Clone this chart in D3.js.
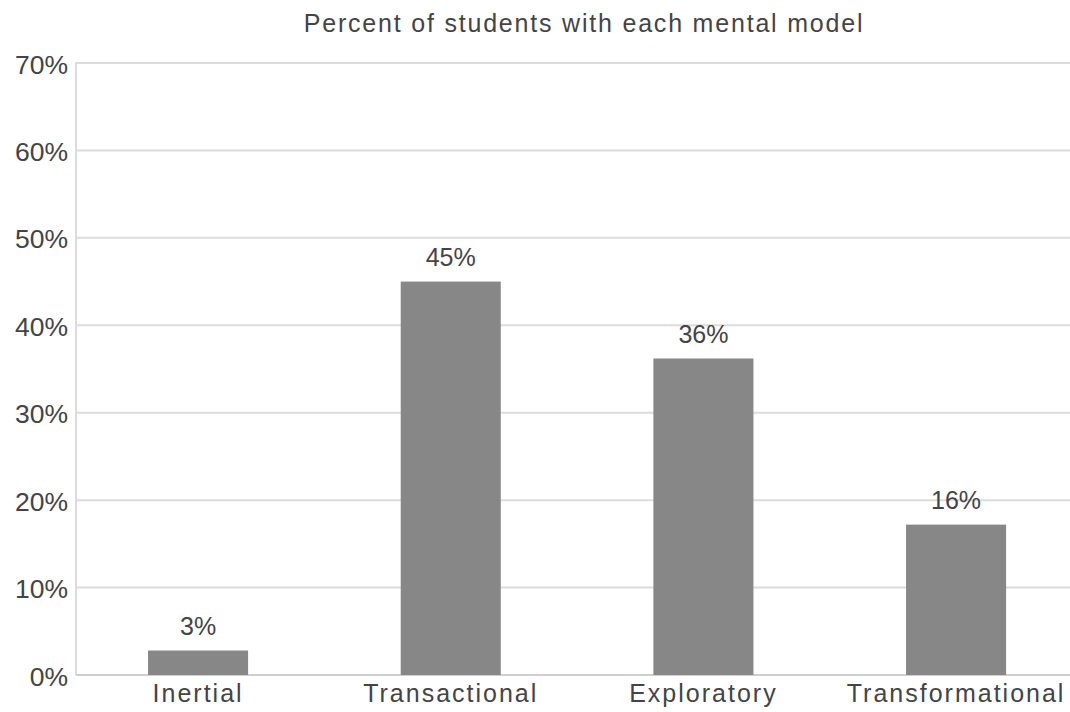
<!DOCTYPE html>
<html>
<head>
<meta charset="utf-8">
<script src="https://cdn.jsdelivr.net/npm/d3@7"></script>
<style>
  html, body { margin: 0; padding: 0; background: #fff; }
  svg { display: block; }
  text { font-family: "Liberation Sans", Arial, sans-serif; fill: #444; }
</style>
</head>
<body>
<svg id="chart" width="1070" height="712"></svg>
<script>
const categories = ["Inertial", "Transactional", "Exploratory", "Transformational"];
const values = [2.8, 45, 36.2, 17.2];
const valueLabels = ["3%", "45%", "36%", "16%"];
const yTicks = [0, 10, 20, 30, 40, 50, 60, 70];
const title = "Percent of students with each mental model";

(function () {
const mLeft = 76, mRight = 1070, mTop = 63, mBottom = 675;
const svg = d3.select("#chart");

const y = d3.scaleLinear().domain([0, 70]).range([mBottom, mTop]);
const x = d3.scaleBand().domain(categories).range([mLeft, mRight])
  .paddingInner(0.604).paddingOuter(0.269).align(0.53);

// gridlines
svg.append("g").selectAll("line").data(yTicks.filter(d => d > 0)).join("line")
  .attr("x1", mLeft).attr("x2", mRight)
  .attr("y1", d => y(d)).attr("y2", d => y(d))
  .attr("stroke", "#dcdcdc").attr("stroke-width", 2);

// axis lines
svg.append("line").attr("x1", mLeft).attr("x2", mLeft).attr("y1", mTop - 1).attr("y2", mBottom)
  .attr("stroke", "#dcdcdc").attr("stroke-width", 2);
svg.append("line").attr("x1", mLeft).attr("x2", mRight).attr("y1", mBottom).attr("y2", mBottom)
  .attr("stroke", "#cfcfcf").attr("stroke-width", 2);

// y tick labels
const yAxis = d3.axisLeft(y).tickValues(yTicks).tickFormat(d => d + "%").tickSize(0).tickPadding(8);
const ga = svg.append("g").attr("transform", `translate(${mLeft},0)`).call(yAxis);
ga.select(".domain").remove();
ga.selectAll("text").attr("font-size", 26.5).attr("fill", "#444")
  .attr("font-family", "'Liberation Sans', Arial, sans-serif").attr("dy", "0.38em");

// bars
svg.append("g").selectAll("rect").data(values).join("rect")
  .attr("x", (d, i) => x(categories[i]))
  .attr("width", x.bandwidth())
  .attr("y", d => y(d))
  .attr("height", d => y(0) - y(d))
  .attr("fill", "#878787");

// value labels
svg.append("g").selectAll("text").data(values).join("text")
  .attr("x", (d, i) => x(categories[i]) + x.bandwidth() / 2)
  .attr("y", d => y(d) - 16)
  .attr("text-anchor", "middle")
  .attr("font-size", 25)
  .text((d, i) => valueLabels[i]);

// category labels
const xAxis = d3.axisBottom(x).tickSize(0).tickPadding(0);
const gx = svg.append("g").attr("transform", `translate(0,${mBottom})`).call(xAxis);
gx.select(".domain").remove();
gx.selectAll("text").attr("font-size", 25).attr("fill", "#444")
  .attr("font-family", "'Liberation Sans', Arial, sans-serif")
  .attr("letter-spacing", "2px").attr("dy", "0").attr("y", 27);

// title
svg.append("text").attr("x", 584).attr("y", 32).attr("text-anchor", "middle")
  .attr("font-size", 25).attr("letter-spacing", "1.8px").text(title);
})();
</script>
</body>
</html>
